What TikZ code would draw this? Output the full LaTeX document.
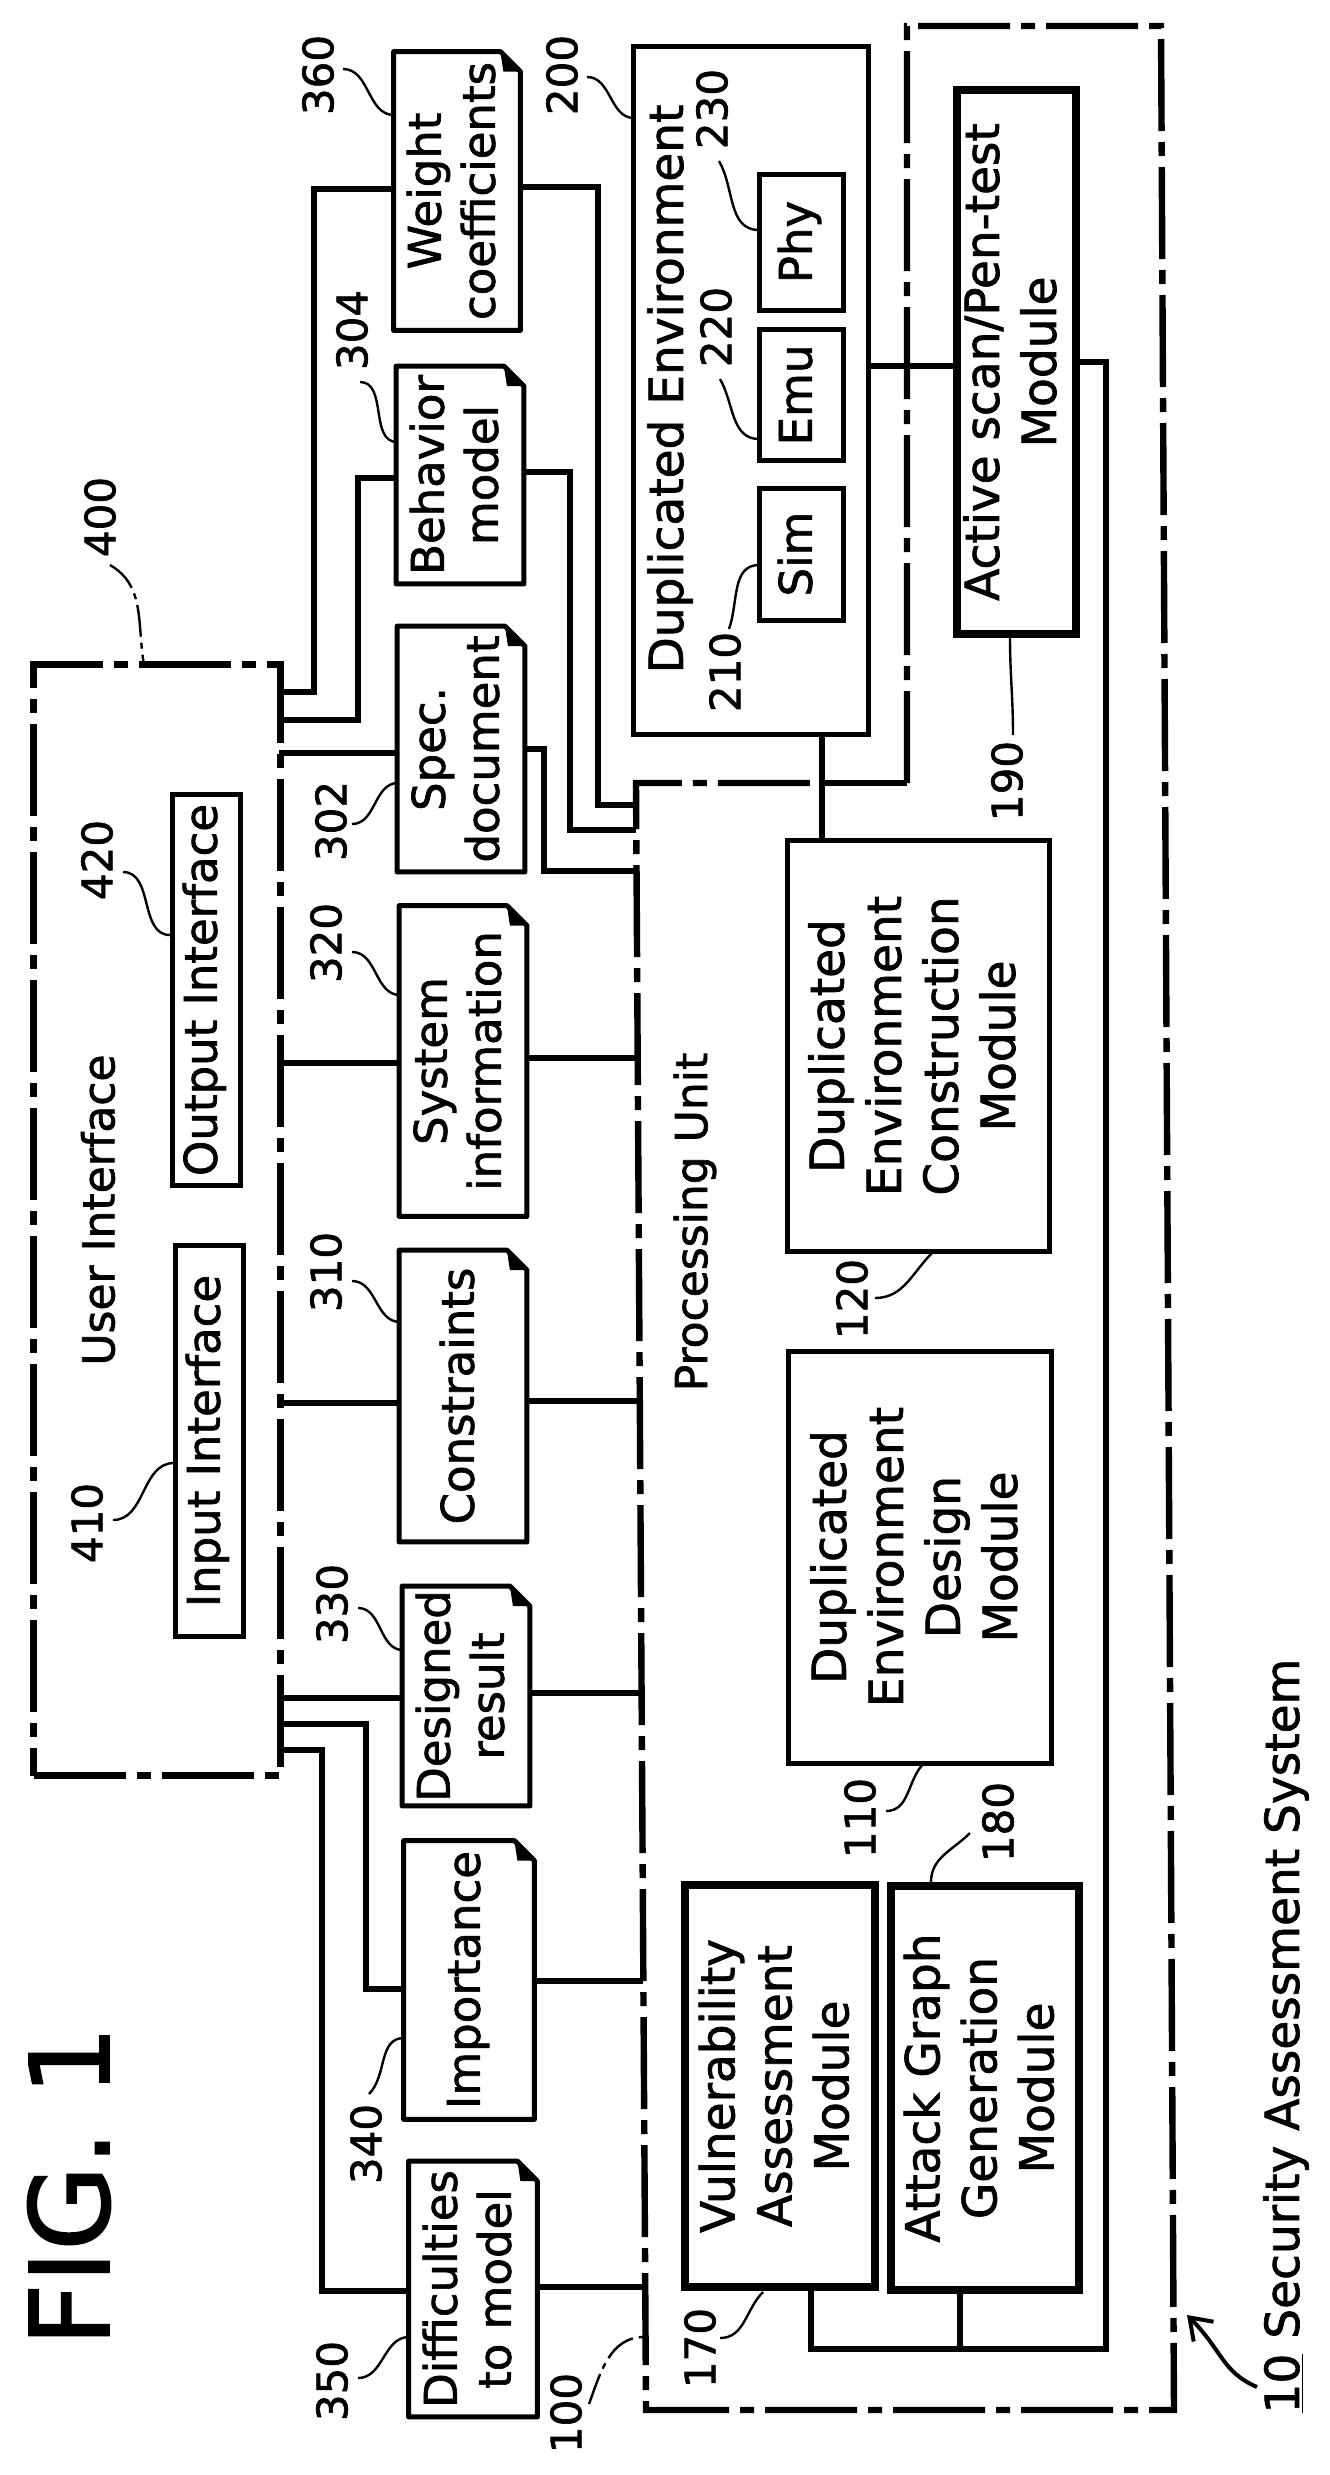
\documentclass[tikz,border=0pt]{standalone}
\usepackage{fontspec}
\setmainfont{DejaVu Sans}[FakeBold=1.5]
\usetikzlibrary{arrows.meta,calc}
\newcommand{\rtext}[1]{\rotatebox{90}{\begin{tabular}{@{}c@{}}#1\end{tabular}}}

\begin{document}
\begin{tikzpicture}[x=0.5pt, y=-0.5pt]
  \tikzstyle{txt} = [rotate=90, inner sep=0pt, align=center, font=\fontsize{22}{27}\selectfont]
  \tikzstyle{num} = [txt, font=\fontsize{21}{27}\selectfont]
  \tikzstyle{box} = [draw, line width=2.5pt, inner sep=0pt, font=\fontsize{22.5}{27}\selectfont]
  \tikzstyle{big} = [box, font=\fontsize{23.5}{28.5}\selectfont]
  \tikzstyle{module} = [big, line width=4pt]
  \tikzstyle{docbox} = [inner sep=0pt, font=\fontsize{22.5}{27}\selectfont]
  \tikzstyle{wire} = [line width=3pt]
  \tikzstyle{leader} = [line width=1.2pt]
  \tikzstyle{dashdot} = [line width=3.2pt, dash pattern=on 46pt off 5.5pt on 7pt off 5.5pt]
  \useasboundingbox (0,0) rectangle (1329,2475);

  % Documents
  \foreach \n/\x/\y/\w/\h/\txt in {360/457/191/126/278/{Weight\\coefficients},
      304/460/475/127/217/{Behavior\\model},
      302/461/749/127/245/{Spec.\\document},
      320/463/1061/127/310/{System\\information},
      310/463/1396/127/291/{Constraints},
      330/466/1696/127/219/{Designed\\result},
      340/469/1980/130/278/{Importance},
      350/473/2289/128/255/{Difficulties\\to model}}
    {
    \node[docbox, minimum width=\w*0.5pt, minimum height=\h*0.5pt] (d\n) at (\x,\y) {\rtext{\txt}};
    \draw[line width=2.5pt, line join=round] (d\n.north west) -- ($(d\n.north east)-(20,0)$) -- ($(d\n.north east)+(0,20)$) -- (d\n.south east) -- (d\n.south west) -- cycle;
    \fill ($(d\n.north east)-(20,0)$) -- ($(d\n.north east)+(0,20)$) -- ($(d\n.north east)+(-17,20)$) -- cycle;
    }

  % Boxes
  \node[box, minimum width=117.5pt, minimum height=344pt] (b200) at (751,390) {};
  \node[txt, font=\fontsize{23.5}{27}\selectfont] (t200) at (670,389) {Duplicated Environment};
  \node[box, minimum width=42pt, minimum height=66pt] (sim) at (801,554) {\rtext{Sim}};
  \node[box, minimum width=42pt, minimum height=65.5pt] (emu) at (801,395) {\rtext{Emu}};
  \node[box, minimum width=42pt, minimum height=68pt] (phy) at (801,242) {\rtext{Phy}};
  \node[big, minimum width=131pt, minimum height=205.5pt] (b120) at (918,1046) {\rtext{Duplicated\\Environment\\Construction\\Module}};
  \node[big, minimum width=131.5pt, minimum height=206pt] (b110) at (920,1557) {\rtext{Duplicated\\Environment\\Design\\Module}};
  \node[module, minimum width=59.5pt, minimum height=272pt] (b190) at (1016,362) {\rtext{Active scan/Pen-test\\Module}};
  \node[module, minimum width=95pt, minimum height=201pt] (b170) at (780,2086) {\rtext{Vulnerability\\Assessment\\Module}};
  \node[module, minimum width=94pt, minimum height=202pt] (b180) at (985,2088) {\rtext{Attack Graph\\Generation\\Module}};
  \node[box, minimum width=34pt, minimum height=195.5pt] (input) at (209,1441) {\rtext{Input Interface}};
  \node[box, minimum width=34pt, minimum height=195.5pt] (output) at (206,990) {\rtext{Output Interface}};

  % User interface and frame
  \node[dashdot, draw, minimum width=123.5pt, minimum height=555.5pt] (ui) at (157,1220) {};
  \node[txt] (tui) at (98,1210) {User Interface};
  \node[txt] (tpu) at (695,1222) {Processing Unit};
  \coordinate (tap) at (822,783);
  \draw[dashdot] (907,783) -- (907,26) -- (1161,26) -- (1174,2410) -- (646,2410) -- (636,783) -- (tap);
  \draw[wire] (tap) -- (907,783);

  % Ports
  \foreach \n/\uy/\uix/\px/\py in {360/692/279/636/805, 304/720/279/636/830, 302/753/279/636/871,
      320/1063/280/637/1058, 310/1403/281/639/1401, 330/1698/284/640/1693,
      340/1724/284/643/1981, 350/1750/284/645/2287}
    {
    \coordinate (ui\n) at (\uix,\uy);
    \coordinate (pu\n) at (\px,\py);
    }

  % Connections
  \draw[wire] (ui360) -| (314,189) -- (d360.west |- 314,189);
  \draw[wire] (d360.east |- 0,187) -| (598,805) -- (pu360);
  \draw[wire] (ui304) -| (358,478) -- (d304.west |- 358,478);
  \draw[wire] (d304.east |- 0,472) -| (570,830) -- (pu304);
  \draw[wire] (ui302) -- (d302.west |- ui302);
  \draw[wire] (d302.east) -| (544,871) -- (pu302);
  \draw[wire] (ui320) -- (d320.west |- ui320);
  \draw[wire] (d320.east |- pu320) -- (pu320);
  \draw[wire] (ui310) -- (d310.west |- ui310);
  \draw[wire] (d310.east |- pu310) -- (pu310);
  \draw[wire] (ui330) -- (d330.west |- ui330);
  \draw[wire] (d330.east |- pu330) -- (pu330);
  \draw[wire] (ui340) -| (366,1989) -- (d340.west |- 366,1989);
  \draw[wire] (d340.east |- pu340) -- (pu340);
  \draw[wire] (ui350) -| (322,2291) -- (d350.west |- 322,2291);
  \draw[wire] (d350.east |- pu350) -- (pu350);
  \draw[wire] (b200.south -| tap) -- (b120.north -| tap);
  \draw[wire] (b200.east |- 0,366) -- (b190.west |- 0,366);
  \coordinate (busR) at (1106,2349);
  \coordinate (bus170) at (811,2349);
  \coordinate (bus180) at (960,2349);
  \draw[wire] (b190.east) -| (busR) -- (bus170) -- (b170.south -| bus170);
  \draw[wire] (b180.south -| bus180) -- (bus180);

  % Reference numbers
  \foreach \n/\tx/\ty/\ax/\ay/\bx/\by/\o/\i in {360/318/75/343/69/394/115/0/180,
      200/562/75/587/77/634/118/0/180, 230/712/109/719/161/759/230/-60/180,
      220/716/327/720/379/759/439/-60/180, 210/725/672/729/629/759/565/70/180,
      304/352/330/360/382/397/442/0/180, 302/331/821/352/824/398/783/0/180,
      420/97/860/123/872/170/935/0/180, 320/326/943/352/952/400/995/0/180,
      310/326/1272/352/1281/400/1322/0/180, 330/332/1604/358/1608/403/1650/0/180,
      410/87/1523/113/1520/174/1463/0/180, 120/852/1299/875/1298/932/1253/0/225,
      190/1007/781/1013/735/1010/637/90/-90, 110/860/1818/886/1811/924/1763/0/225,
      180/998/1822/970/1833/931/1882/225/90, 170/700/2348/720/2338/763/2292/0/225,
      340/366/2144/369/2094/404/2038/45/180, 350/332/2381/358/2378/409/2337/0/180}
    {
    \node[num] (l\n) at (\tx,\ty) {\n};
    \coordinate (s\n) at (\ax,\ay);
    \coordinate (e\n) at (\bx,\by);
    \draw[leader] (s\n) to[out=\o, in=\i] (e\n);
    }
  \node[num] (l400) at (100,517) {400};
  \node[num] (l100) at (566,2413) {100};
  \coordinate (s400) at (110,565);
  \coordinate (s100) at (589,2404);
  \draw[leader, dash pattern=on 16pt off 3pt on 3pt off 3pt] (s400) to[out=-30, in=100] (144,665);
  \draw[leader, dash pattern=on 16pt off 3pt on 3pt off 3pt] (s100) to[out=70, in=180] (644,2337);

  % Caption
  \node[txt, font=\fontsize{23.5}{27}\selectfont] (t10) at (1286,2036) {\underline{10} Security Assessment System};
  \coordinate (s10) at (1257,2387);
  \coordinate (e10) at (1187,2315);
  \draw[line width=2pt, -{Straight Barb[length=10pt, width=14pt]}] (s10) .. controls (1222,2372) and (1222,2350) .. (e10);
  \node[txt, font=\fontsize{55}{60}\selectfont] (fig) at (69,2186) {FIG. 1};
\end{tikzpicture}
\end{document}
